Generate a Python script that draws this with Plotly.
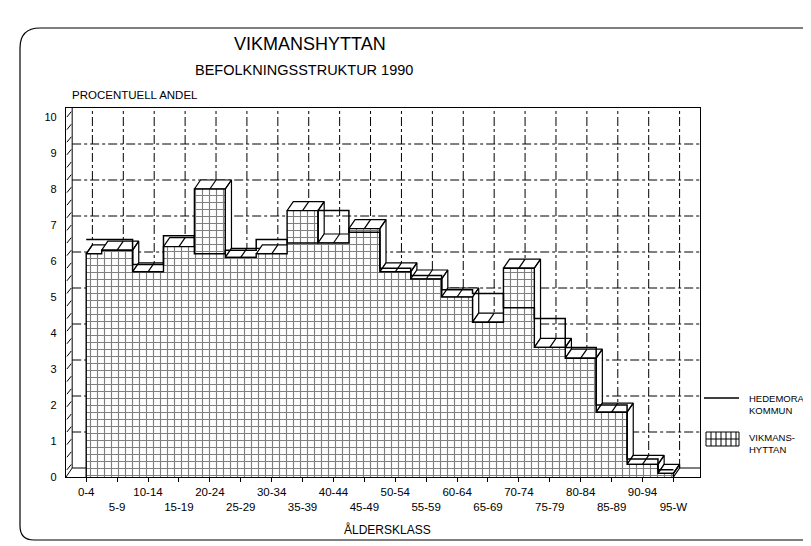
import plotly.graph_objects as go

# ---------------- data ----------------
age_classes = ["0-4", "5-9", "10-14", "15-19", "20-24", "25-29", "30-34", "35-39",
               "40-44", "45-49", "50-54", "55-59", "60-64", "65-69", "70-74", "75-79",
               "80-84", "85-89", "90-94", "95-W"]
vikmanshyttan = [6.2, 6.3, 5.7, 6.4, 8.0, 6.1, 6.2, 7.4, 6.5, 6.9,
                 5.7, 5.5, 5.0, 4.3, 5.8, 3.6, 3.3, 1.8, 0.35, 0.1]
hedemora_kommun = [6.6, 6.6, 5.9, 6.7, 6.2, 6.3, 6.6, 6.5, 7.4, 6.8,
                   5.8, 5.6, 5.2, 5.1, 4.7, 4.4, 3.6, 2.0, 0.5, 0.2]
y_ticks = list(range(0, 11))

# ---------------- layout geometry ----------------
W, H = 811, 546
OFF = 8                      # page body margin of the html page
PLOT_L, PLOT_R, PLOT_T, PLOT_B = 66, 700, 108, 477   # wanted window pixels
ML, MT = PLOT_L - OFF, PLOT_T - OFF
PW, PH = PLOT_R - PLOT_L, PLOT_B - PLOT_T
MR, MB = W - ML - PW, H - MT - PH
DX, DY = 0.2, 0.25          # 3D depth offset (x in categories, y in units)
XMIN, XMAX = -0.654, 19.86
YMAX = y_ticks[-1] + DY
FONT = "Liberation Sans"

def pxx(p):
    return (p - PLOT_L) / PW

def pxy(p):
    return (PLOT_B - p) / PH

n = len(age_classes)
idx = list(range(n))
fig = go.Figure()

# ---- 3D extrusion of the Vikmanshyttan step area (drawn back to front) ----
for i in idx:
    v = vikmanshyttan[i]
    xl = max(i - 0.5, idx[0])
    xr = min(i + 0.5, idx[-1])
    nxt = vikmanshyttan[i + 1] if i < n - 1 else 0
    xs = [xl, xl + DX, xr + DX, xr, xl, None, i, i + DX]
    ys = [v, v + DY, v + DY, v, v, None, v, v + DY]
    if v > nxt:
        xs += [None, xr, xr, xr + DX, xr + DX, xr]
        ys += [None, nxt, v, v + DY, nxt + DY, nxt]
    fig.add_trace(go.Scatter(x=xs, y=ys, mode="lines", fill="toself",
                             fillcolor="white",
                             line=dict(color="black", width=1.2),
                             hoverinfo="skip", showlegend=False))

# ---- front face of the Vikmanshyttan step area (hatched) ----
fig.add_trace(go.Scatter(
    x=[idx[0]] + idx + [idx[-1]], y=[0] + vikmanshyttan + [0],
    mode="lines", line_shape="hvh", fill="toself", fillcolor="white",
    fillpattern=dict(shape="+", fgcolor="black", bgcolor="white",
                     size=7, solidity=0.3),
    line=dict(color="black", width=1.4),
    name="VIKMANSHYTTAN", showlegend=False))

# ---- Hedemora kommun step line ----
fig.add_trace(go.Scatter(
    x=idx, y=hedemora_kommun, mode="lines", line_shape="hvh",
    line=dict(color="black", width=1.5),
    name="HEDEMORA KOMMUN", showlegend=False))

# ---------------- decorations ----------------
shapes = []
grid_line = dict(color="black", width=1, dash="dashdot")
for k in y_ticks[1:-1]:
    shapes.append(dict(type="line", xref="x", yref="y", layer="below",
                       x0=XMIN + DX, x1=XMAX, y0=k + DY, y1=k + DY, line=grid_line))
for i in idx:
    shapes.append(dict(type="line", xref="x", yref="y", layer="below",
                       x0=i + DX, x1=i + DX, y0=DY, y1=YMAX, line=grid_line))
# left wall and floor
shapes.append(dict(type="line", xref="x", yref="y", layer="below",
                   x0=XMIN + DX, x1=XMIN + DX, y0=DY, y1=YMAX,
                   line=dict(color="black", width=1)))
shapes.append(dict(type="line", xref="x", yref="y", layer="below",
                   x0=XMIN, x1=XMIN + DX, y0=0, y1=DY,
                   line=dict(color="black", width=1)))
shapes.append(dict(type="line", xref="x", yref="y", layer="below",
                   x0=XMIN + DX, x1=XMAX, y0=DY, y1=DY,
                   line=dict(color="black", width=1)))
wall_path = ""
k = 0.2
while k < y_ticks[-1]:
    wall_path += f"M{XMIN + 0.03},{k} L{XMIN + DX - 0.03},{k + 0.15} "
    k += 0.35
shapes.append(dict(type="path", xref="x", yref="y", layer="below", path=wall_path,
                   line=dict(color="black", width=1)))

# outer rounded frame
frame = (f"M{pxx(815)},{pxy(28)} L{pxx(40)},{pxy(28)} "
         f"Q{pxx(20)},{pxy(28)} {pxx(20)},{pxy(48)} "
         f"L{pxx(20)},{pxy(526)} Q{pxx(20)},{pxy(540)} {pxx(34)},{pxy(540)} "
         f"L{pxx(815)},{pxy(540)}")
shapes.append(dict(type="path", xref="paper", yref="paper", path=frame,
                   line=dict(color="black", width=1.2)))

# legend symbols
shapes.append(dict(type="line", xref="paper", yref="paper",
                   x0=pxx(704), x1=pxx(739), y0=pxy(398), y1=pxy(398),
                   line=dict(color="black", width=1.3)))
bx0, bx1, by0, by1 = 706, 739, 432, 446
box_path = f"M{pxx(bx0)},{pxy(by0)} L{pxx(bx1)},{pxy(by0)} L{pxx(bx1)},{pxy(by1)} L{pxx(bx0)},{pxy(by1)} Z "
xx = bx0 + 5
while xx < bx1:
    box_path += f"M{pxx(xx)},{pxy(by0)} L{pxx(xx)},{pxy(by1)} "
    xx += 5
box_path += f"M{pxx(bx0)},{pxy((by0 + by1) / 2)} L{pxx(bx1)},{pxy((by0 + by1) / 2)}"
shapes.append(dict(type="path", xref="paper", yref="paper", path=box_path,
                   line=dict(color="black", width=1)))

annotations = [
    dict(text="VIKMANSHYTTAN", x=pxx(310), y=pxy(44), size=18),
    dict(text="BEFOLKNINGSSTRUKTUR 1990", x=pxx(304), y=pxy(70), size=14.5),
    dict(text="PROCENTUELL ANDEL", x=pxx(70), y=pxy(95), size=11.5, xanchor="left"),
    dict(text="ÅLDERSKLASS", x=pxx(388), y=pxy(529), size=12),
    dict(text="HEDEMORA<br>KOMMUN", x=pxx(747), y=pxy(404), size=9.5, xanchor="left"),
    dict(text="VIKMANS-<br>HYTTAN", x=pxx(747), y=pxy(443), size=9.5, xanchor="left"),
]
ann = []
for a in annotations:
    ann.append(dict(text=a["text"], x=a["x"], y=a["y"], xref="paper", yref="paper",
                    xanchor=a.get("xanchor", "center"), yanchor="middle",
                    showarrow=False, align="left",
                    font=dict(family=FONT, size=a["size"], color="black")))

tick_text = [lab if i % 2 == 0 else "<br>" + lab for i, lab in enumerate(age_classes)]

fig.update_layout(
    width=W, height=H,
    margin=dict(l=ML, r=MR, t=MT, b=MB, pad=0, autoexpand=False),
    paper_bgcolor="white", plot_bgcolor="white",
    font=dict(family=FONT, color="black"),
    showlegend=False,
    shapes=shapes, annotations=ann,
    xaxis=dict(range=[XMIN, XMAX], tickvals=idx, ticktext=tick_text, tickangle=0,
               automargin=False,
               showgrid=False, zeroline=False, showline=True, mirror=True,
               linecolor="black", linewidth=1.2, ticks="outside", ticklen=4,
               tickcolor="black", tickfont=dict(size=11.5, family=FONT)),
    yaxis=dict(range=[0, YMAX], tickvals=y_ticks, showgrid=False, zeroline=False,
               automargin=False,
               showline=True, mirror=True, linecolor="black", linewidth=1.2,
               ticks="", ticklabelstandoff=6, tickfont=dict(size=11, family=FONT)),
)

fig.write_html("out.html")
